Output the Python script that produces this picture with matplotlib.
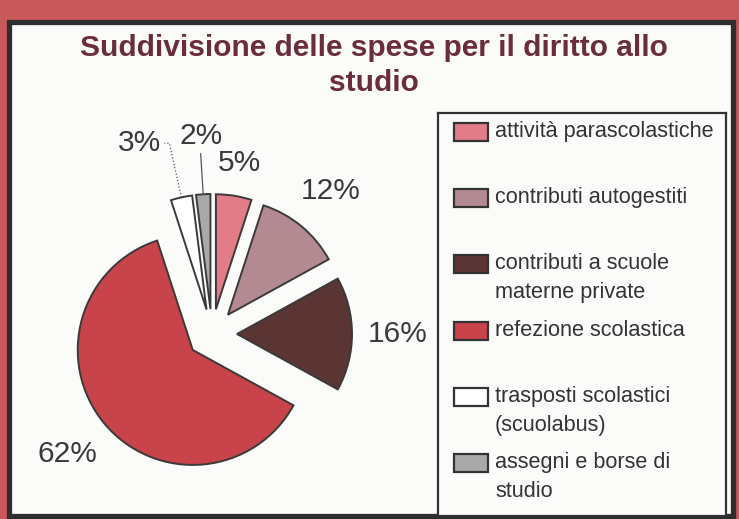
import numpy as np
import matplotlib
matplotlib.use("Agg")
import matplotlib.pyplot as plt
from matplotlib.patches import Rectangle

plt.rcParams['font.family'] = ['Liberation Sans', 'DejaVu Sans']

# data
categories = ['attività parascolastiche', 'contributi autogestiti',
              'contributi a scuole\nmaterne private', 'refezione scolastica',
              'trasposti scolastici\n(scuolabus)', 'assegni e borse di\nstudio']
shares = [5, 12, 16, 62, 3, 2]
pct_labels = ['5%', '12%', '16%', '62%', '3%', '2%']
colors = ['#e27d88', '#b48a92', '#5b3434', '#c9434a', '#ffffff', '#a9a9a9']

W, H = 739, 519
fig = plt.figure(figsize=(W / 100, H / 100), dpi=100)
fig.patch.set_facecolor('#c9585b')

# white panel with dark frame
panel = Rectangle((9 / W, 3 / H), 724 / W, (H - 25) / H, transform=fig.transFigure,
                  facecolor='#fbfbfa', edgecolor='#2e2e2e', linewidth=3.8, zorder=-5)
fig.patches.append(panel)

# va='baseline' anchors the last line -> second line baseline
fig.text(374 / W, 1 - 91 / H, 'Suddivisione delle spese per il diritto allo\nstudio',
         ha='center', va='baseline', fontsize=21.5, fontweight='bold',
         color='#6b2d3a', linespacing=1.31)

# pie axes: 100 px per data unit, centre at (212, 334) px
cx, cy, half = 212, H - 334, 220
ax = fig.add_axes([(cx - half) / W, (cy - half) / H, 2 * half / W, 2 * half / H])
ax.set_facecolor('none')
R = 1.15
expl = 0.25
wedges, texts = ax.pie(shares, explode=[expl] * len(shares), labels=pct_labels,
                       colors=colors, startangle=90, counterclock=False, radius=R,
                       labeldistance=1.38,
                       wedgeprops=dict(edgecolor='#3a3a3a', linewidth=1.4),
                       textprops=dict(fontsize=21.5, color='#3a3a3a'))
ax.set_xlim(-2.2, 2.2)
ax.set_ylim(-2.2, 2.2)
ax.axis('off')

fig.canvas.draw()
renderer = fig.canvas.get_renderer()

small_styles = [':', '-']
small_len = [1.70, 1.57]
k = 0
for w, t, s in zip(wedges, texts, shares):
    t.set_ha('center')
    t.set_va('center')
    ang = np.deg2rad((w.theta1 + w.theta2) / 2)
    d = np.array([np.cos(ang), np.sin(ang)])
    if s >= 4:
        # label box sits a fixed gap outside the slice
        bb = t.get_window_extent(renderer)
        wx, hy = bb.width / 200, bb.height / 200
        dist = expl + R + 0.16 + abs(d[0]) * wx + abs(d[1]) * hy
        t.set_position(tuple(dist * d))
        continue
    start = np.array(w.center) + w.r * d
    end = small_len[k] * w.r * d
    xs, ys = [start[0], end[0]], [start[1], end[1]]
    if d[0] < -0.15:
        xs.append(end[0] - 0.05)
        ys.append(end[1])
        t.set_position((end[0] - 0.08, end[1]))
        t.set_ha('right')
    else:
        t.set_position((end[0], end[1] + 0.04))
        t.set_va('bottom')
    ax.plot(xs, ys, linestyle=small_styles[k], color='#555555', linewidth=0.9)
    k += 1

# legend box
lx0, ly0, lx1, ly1 = 438, 113, 726, 516
lax = fig.add_axes([lx0 / W, 1 - ly1 / H, (lx1 - lx0) / W, (ly1 - ly0) / H])
lax.set_xlim(0, lx1 - lx0)
lax.set_ylim(ly1 - ly0, 0)
lax.set_xticks([])
lax.set_yticks([])
lax.set_facecolor('#fbfbfa')
for sp in lax.spines.values():
    sp.set_linewidth(1.6)
    sp.set_color('#333333')
step = 66.2
for i, (lab, col) in enumerate(zip(categories, colors)):
    yc = 18 + i * step
    lax.add_patch(Rectangle((16, yc - 8), 34, 18, facecolor=col,
                            edgecolor='#333333', linewidth=1.6))
    lax.text(57, yc - 10, lab, ha='left', va='top',
             fontsize=15.6, color='#333333', linespacing=1.5)

fig.savefig('out.png', dpi=100, facecolor=fig.get_facecolor())
